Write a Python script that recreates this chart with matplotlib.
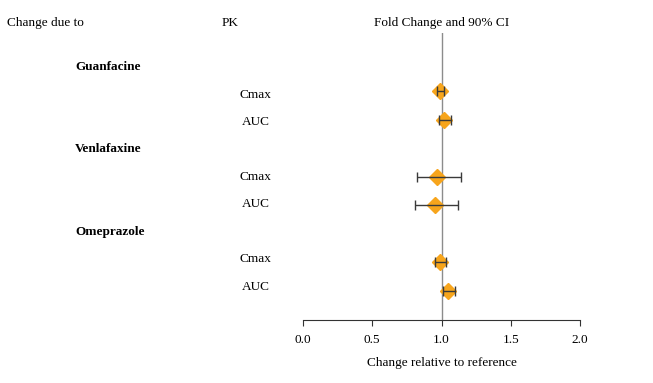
import matplotlib
matplotlib.use("Agg")
import matplotlib.pyplot as plt

drugs = ["Guanfacine", "Venlafaxine", "Omeprazole"]
pk_params = ["Cmax", "AUC"]
fold_change = [0.99, 1.02, 0.97, 0.95, 0.99, 1.05]
ci_low = [0.97, 0.985, 0.82, 0.81, 0.95, 1.01]
ci_high = [1.02, 1.065, 1.14, 1.12, 1.035, 1.095]
xticks = [0.0, 0.5, 1.0, 1.5, 2.0]
header_left = "Change due to"
header_pk = "PK"
header_plot = "Fold Change and 90% CI"
xlabel = "Change relative to reference"

W, H = 653, 383
fig = plt.figure(figsize=(W / 100, H / 100), dpi=100)
plt.rcParams["font.family"] = ["Liberation Serif", "DejaVu Serif"]
FS = 9.5

# axes region in pixels
x0, x1 = 303, 580
ytop, ybot = 33, 320
ax = fig.add_axes([x0 / W, 1 - ybot / H, (x1 - x0) / W, (ybot - ytop) / H])

# row layout: heading then parameter rows per drug
rows_pt = []
labels = []
r = 0
for d in drugs:
    labels.append((r, d, True))
    r += 1
    for p in pk_params:
        labels.append((r, p, False))
        rows_pt.append(r)
        r += 1

a, b = 62.4, 28.57
ax.set_ylim((ybot - a) / b, (ytop - a) / b)
ax.set_xlim(0, 2)

ax.axvline(1.0, color="#8c8c8c", lw=1.0, zorder=1)

ax.plot(fold_change, rows_pt, linestyle="none", marker="D", markersize=8,
        color="#F7A51C", markeredgecolor="#F7A51C", zorder=3)
xerr = [[f - l for f, l in zip(fold_change, ci_low)],
        [h - f for f, h in zip(fold_change, ci_high)]]
ax.errorbar(fold_change, rows_pt, xerr=xerr, fmt="none", ecolor="#3a3a3a",
            elinewidth=1.0, capsize=3.5, capthick=1.0, zorder=5)

for s in ["top", "right", "left"]:
    ax.spines[s].set_visible(False)
ax.spines["bottom"].set_color("#333333")
ax.set_yticks([])
ax.set_xticks(xticks)
ax.set_xticklabels([f"{t:.1f}" for t in xticks], fontsize=FS)
ax.tick_params(axis="x", length=4, color="#333333", pad=6)
ax.set_xlabel(xlabel, fontsize=FS, labelpad=8)

def fy(py):
    return 1 - py / H

fig.text(7 / W, fy(23), header_left, fontsize=FS, va="center", ha="left")
fig.text(222 / W, fy(23), header_pk, fontsize=FS, va="center", ha="left")
fig.text(442 / W, fy(23), header_plot, fontsize=FS, va="center", ha="center")

for i, txt, bold in labels:
    py = 67 + 27.5 * i
    if bold:
        fig.text(75 / W, fy(py), txt, fontsize=FS, fontweight="bold",
                 va="center", ha="left")
    else:
        fig.text(255.5 / W, fy(py), txt, fontsize=FS, va="center", ha="center")

fig.savefig("out.png", dpi=100)
